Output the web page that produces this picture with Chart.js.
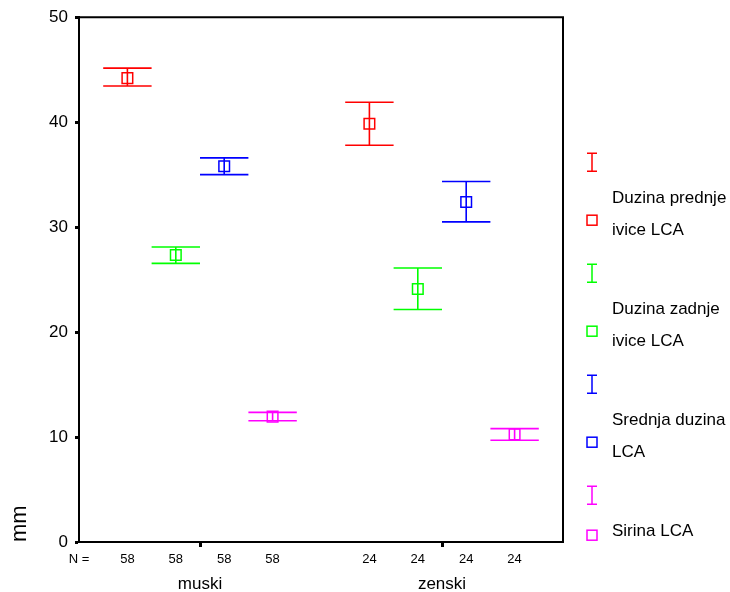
<!DOCTYPE html>
<html lang="en">
<head>
  <meta charset="UTF-8">
  <script src="https://cdn.jsdelivr.net/npm/chart.js"></script>
  <title>LCA</title>
  <style>
    body { margin: 0; background: #fff; }
  </style>
</head>
<body>
  <canvas id="chart" width="730" height="592"></canvas>
  <script>
    const groups = ['muski', 'zenski']
    const nCounts = [58, 24]
    const seriesNames = [['Duzina prednje', 'ivice LCA'], ['Duzina zadnje', 'ivice LCA'], ['Srednja duzina', 'LCA'], ['Sirina LCA']]
    const seriesColors = ['#ff0000', '#00ff00', '#0000ff', '#ff00ff']
    const yTicks = [0, 10, 20, 30, 40, 50]

    // mean and 95% CI per group (muski, zenski)
    const prednjeMean = [44.2, 39.85]
    const prednjeLow = [43.45, 37.8]
    const prednjeHigh = [45.15, 41.9]
    const zadnjeMean = [27.35, 24.1]
    const zadnjeLow = [26.55, 22.15]
    const zadnjeHigh = [28.1, 26.1]
    const srednjaMean = [35.8, 32.4]
    const srednjaLow = [35.0, 30.5]
    const srednjaHigh = [36.6, 34.35]
    const sirinaMean = [11.95, 10.25]
    const sirinaLow = [11.55, 9.7]
    const sirinaHigh = [12.35, 10.8]

    const means = [prednjeMean, zadnjeMean, srednjaMean, sirinaMean]
    const lows = [prednjeLow, zadnjeLow, srednjaLow, sirinaLow]
    const highs = [prednjeHigh, zadnjeHigh, srednjaHigh, sirinaHigh]

    const FONT = "'Liberation Sans', Arial, sans-serif"
    const perGroup = seriesNames.length + 1
    const slot = (g, k) => g * perGroup + k

    const datasets = seriesNames.map((name, k) => ({
      label: name.join(' '),
      data: groups.map((g, gi) => ({ x: slot(gi, k), y: means[k][gi], low: lows[k][gi], high: highs[k][gi] })),
      borderColor: seriesColors[k],
      backgroundColor: 'rgba(0,0,0,0)',
      pointStyle: 'rect',
      pointRadius: 7.5,
      pointBorderWidth: 1.5
    }))

    const nTicks = [{ value: -1, label: 'N =' }]
    groups.forEach((g, gi) => seriesNames.forEach((s, k) => nTicks.push({ value: slot(gi, k), label: String(nCounts[gi]) })))

    const errorBars = {
      id: 'errorBars',
      afterDatasetsDraw(chart) {
        const { ctx, scales: { x, y } } = chart
        chart.data.datasets.forEach(ds => {
          ctx.save()
          ctx.strokeStyle = ds.borderColor
          ctx.lineWidth = 1.6
          ds.data.forEach(p => {
            const px = x.getPixelForValue(p.x)
            const left = x.getPixelForValue(p.x - 0.5)
            const right = x.getPixelForValue(p.x + 0.5)
            const top = y.getPixelForValue(p.high)
            const bot = y.getPixelForValue(p.low)
            ctx.beginPath()
            ctx.moveTo(px, top); ctx.lineTo(px, bot)
            ctx.moveTo(left, top); ctx.lineTo(right, top)
            ctx.moveTo(left, bot); ctx.lineTo(right, bot)
            ctx.stroke()
          })
          ctx.restore()
        })
      }
    }

    const frame = {
      id: 'frame',
      afterDraw(chart) {
        const { ctx, chartArea: a } = chart
        ctx.save()
        ctx.strokeStyle = '#000'
        ctx.lineWidth = 2
        ctx.beginPath()
        ctx.moveTo(a.left, a.top); ctx.lineTo(a.right, a.top); ctx.lineTo(a.right, a.bottom)
        ctx.stroke()
        ctx.restore()
      }
    }

    const sideLegend = {
      id: 'sideLegend',
      afterDraw(chart) {
        const { ctx, chartArea: a } = chart
        const cx = a.right + 29
        const tx = a.right + 49
        ctx.save()
        ctx.lineWidth = 1.5
        ctx.font = '17px ' + FONT
        ctx.textBaseline = 'middle'
        seriesNames.forEach((lines, k) => {
          const y0 = a.top + 145 + k * 111
          ctx.strokeStyle = seriesColors[k]
          // error bar symbol
          ctx.beginPath()
          ctx.moveTo(cx - 5, y0 - 9); ctx.lineTo(cx + 5, y0 - 9)
          ctx.moveTo(cx, y0 - 9); ctx.lineTo(cx, y0 + 9)
          ctx.moveTo(cx - 5, y0 + 9); ctx.lineTo(cx + 5, y0 + 9)
          ctx.stroke()
          // mean symbol
          const sy = y0 + 22 + 18 * lines.length
          ctx.strokeRect(cx - 5, sy - 5, 10, 10)
          ctx.fillStyle = '#000'
          lines.forEach((t, li) => ctx.fillText(t, tx, y0 + 36 + li * 32))
        })
        ctx.restore()
      }
    }

    new Chart(document.getElementById('chart'), {
      type: 'scatter',
      data: { datasets },
      plugins: [errorBars, frame, sideLegend],
      options: {
        responsive: false,
        animation: false,
        layout: { padding: { left: 0, top: 17, right: 167, bottom: 0 } },
        plugins: { legend: { display: false }, tooltip: { enabled: false } },
        scales: {
          x: {
            type: 'linear',
            min: -1,
            max: perGroup * groups.length - 1,
            position: 'bottom',
            weight: 0,
            afterBuildTicks: s => { s.ticks = groups.map((g, gi) => ({ value: slot(gi, 1.5) })) },
            afterFit: s => { s.height = 6 },
            ticks: { display: false },
            grid: { drawOnChartArea: false, drawTicks: true, tickLength: 5, tickWidth: 3, tickColor: '#000' },
            border: { color: '#000', width: 2 }
          },
          xN: {
            type: 'linear',
            min: -1,
            max: perGroup * groups.length - 1,
            position: 'bottom',
            weight: 1,
            afterBuildTicks: s => { s.ticks = nTicks.map(t => ({ value: t.value })) },
            afterFit: s => { s.height = 20 },
            ticks: {
              autoSkip: false,
              maxRotation: 0,
              padding: 4,
              color: '#000',
              font: { family: FONT, size: 13 },
              callback: v => (nTicks.find(t => t.value === v) || {}).label
            },
            grid: { display: false, drawTicks: false },
            border: { display: false }
          },
          xG: {
            type: 'linear',
            min: -1,
            max: perGroup * groups.length - 1,
            position: 'bottom',
            weight: 2,
            afterBuildTicks: s => { s.ticks = groups.map((g, gi) => ({ value: slot(gi, 1.5) })) },
            afterFit: s => { s.height = 24 },
            ticks: {
              autoSkip: false,
              maxRotation: 0,
              padding: 6,
              color: '#000',
              font: { family: FONT, size: 17 },
              callback: v => groups[Math.round((v - 1.5) / perGroup)]
            },
            grid: { display: false, drawTicks: false },
            border: { display: false }
          },
          y: {
            min: 0,
            max: 50,
            afterBuildTicks: s => { s.ticks = yTicks.map(v => ({ value: v })) },
            afterFit: s => { s.width = 79 },
            ticks: { padding: 7, color: '#000', font: { family: FONT, size: 17 } },
            grid: { drawOnChartArea: false, drawTicks: true, tickLength: 4, tickWidth: 3, tickColor: '#000' },
            border: { color: '#000', width: 2 },
            title: { display: true, text: 'mm', align: 'start', color: '#000', font: { family: FONT, size: 22 }, padding: { top: 7, bottom: 0 } }
          }
        }
      }
    })
  </script>
</body>
</html>
